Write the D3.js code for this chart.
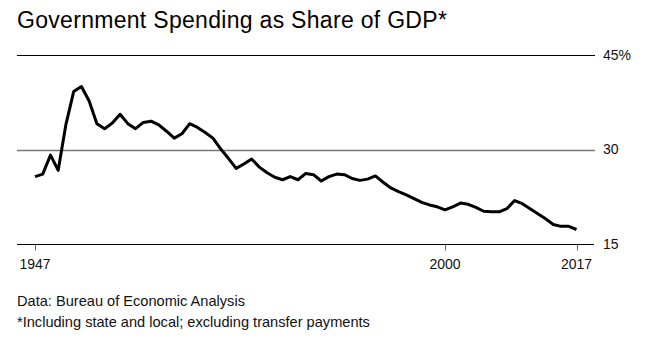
<!DOCTYPE html>
<html>
<head>
<meta charset="utf-8">
<script src="https://cdn.jsdelivr.net/npm/d3@7"></script>
<style>
  html, body { margin: 0; padding: 0; background: #fff; }
  svg { display: block; font-family: "Liberation Sans", Arial, Helvetica, sans-serif; }
</style>
</head>
<body>
<svg id="chart" width="651" height="345"></svg>
<script>
// Government spending (state, local and federal, excluding transfers) as % of GDP
const years = d3.range(1947, 2018);
const spending = [
  25.7, 26.1, 29.1, 26.7, 34.0, 39.2, 40.0, 37.7, 34.1, 33.3,
  34.2, 35.6, 34.1, 33.3, 34.3, 34.5, 33.9, 32.9, 31.8, 32.5,
  34.1, 33.5, 32.7, 31.8, 30.1, 28.6, 27.0, 27.7, 28.5, 27.2,
  26.3, 25.6, 25.2, 25.7, 25.2, 26.2, 26.0, 25.0, 25.7, 26.1,
  26.0, 25.4, 25.1, 25.3, 25.8, 24.8, 23.9, 23.3, 22.8, 22.2,
  21.6, 21.2, 20.9, 20.4, 20.9, 21.5, 21.3, 20.8, 20.2, 20.1,
  20.1, 20.6, 21.9, 21.4, 20.6, 19.8, 19.0, 18.1, 17.8, 17.8,
  17.3
];
const yTicks = [15, 30, 45];
const yTickLabels = ["15", "30", "45%"];
const xTicks = [1947, 2000, 2017];

const title = "Government Spending as Share of GDP*";
const notes = [
  "Data: Bureau of Economic Analysis",
  "*Including state and local; excluding transfer payments"
];

const svg = d3.select("#chart");
const plotLeft = 17, plotRight = 594;

const x = d3.scaleLinear().domain([1947, 2017]).range([35, 576.5]);
const y = d3.scaleLinear().domain([15, 45]).range([244, 55]);

// Title
svg.append("text")
  .attr("x", 17).attr("y", 27.5)
  .attr("font-size", 23)
  .attr("letter-spacing", 0.3)
  .attr("fill", "#000")
  .text(title);

// Horizontal gridlines with labels on the right
const grid = svg.append("g");
grid.selectAll("line")
  .data(yTicks.filter(d => d !== 15))
  .join("line")
  .attr("x1", plotLeft).attr("x2", plotRight + 1)
  .attr("y1", d => Math.round(y(d)) + 0.5)
  .attr("y2", d => Math.round(y(d)) + 0.5)
  .attr("stroke", d => d === 45 ? "#000" : "#777")
  .attr("stroke-width", d => d === 45 ? 1 : 1.5);

grid.selectAll("text")
  .data(yTicks)
  .join("text")
  .attr("x", 603)
  .attr("y", d => y(d))
  .attr("dy", "0.35em")
  .attr("font-size", 14)
  .attr("fill", "#111")
  .text((d, i) => yTickLabels[i]);

// Bottom axis: baseline, small ticks, year labels
const xAxis = svg.append("g")
  .attr("transform", `translate(0,${Math.round(y(15)) + 0.5})`);
xAxis.append("line")
  .attr("x1", plotLeft).attr("x2", plotRight)
  .attr("stroke", "#000").attr("stroke-width", 1.2);
xAxis.selectAll("line.tick")
  .data(xTicks)
  .join("line")
  .attr("class", "tick")
  .attr("x1", d => Math.round(x(d)) + 0.5)
  .attr("x2", d => Math.round(x(d)) + 0.5)
  .attr("y1", 0).attr("y2", 6)
  .attr("stroke", "#666").attr("stroke-width", 1);
xAxis.selectAll("text")
  .data(xTicks)
  .join("text")
  .attr("x", d => x(d))
  .attr("y", 24)
  .attr("text-anchor", "middle")
  .attr("font-size", 14)
  .attr("fill", "#111")
  .text(d => d);

// Spending line
const line = d3.line()
  .x((d, i) => x(years[i]))
  .y(d => y(d));
svg.append("path")
  .datum(spending)
  .attr("d", line)
  .attr("fill", "none")
  .attr("stroke", "#000")
  .attr("stroke-width", 3)
  .attr("stroke-linejoin", "round")
  .attr("stroke-linecap", "butt");

// Source and footnote
svg.selectAll("text.note")
  .data(notes)
  .join("text")
  .attr("class", "note")
  .attr("x", 17)
  .attr("y", (d, i) => 305.5 + i * 21)
  .attr("font-size", 14.6)
  .attr("fill", "#111")
  .text(d => d);
</script>
</body>
</html>
